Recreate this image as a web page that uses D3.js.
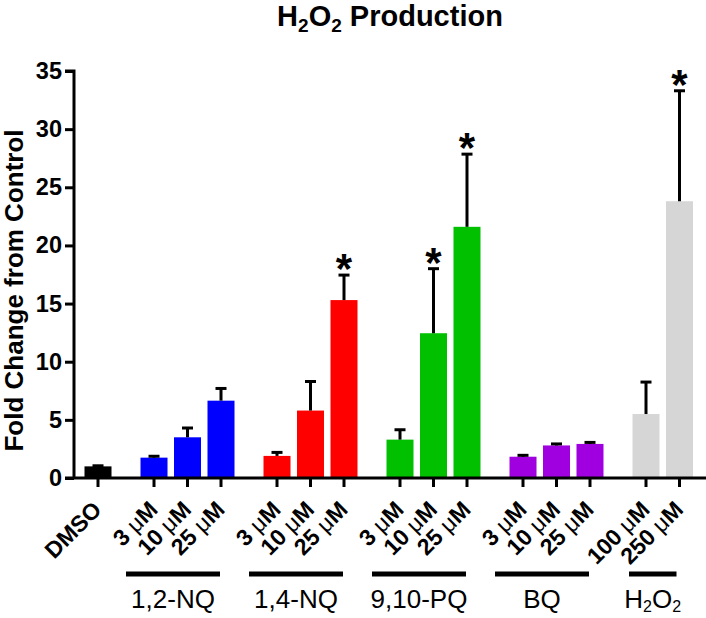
<!DOCTYPE html>
<html>
<head>
<meta charset="utf-8">
<script src="https://cdn.jsdelivr.net/npm/d3@7"></script>
<style>
  html, body { margin: 0; padding: 0; background: #fff; }
  svg { display: block; font-family: "Liberation Sans", Arial, sans-serif; }
</style>
</head>
<body>
<svg id="chart" width="706" height="618"></svg>
<script>
// ---------------- data ----------------
const doseNumbers = ["DMSO", "3", "10", "25", "3", "10", "25", "3", "10", "25", "3", "10", "25", "100", "250"];
const doseUnits   = ["",     "μM", "μM", "μM", "μM", "μM", "μM", "μM", "μM", "μM", "μM", "μM", "μM", "μM", "μM"];
const groupOf     = [0, 1, 1, 1, 2, 2, 2, 3, 3, 3, 4, 4, 4, 5, 5];
const means       = [1.0, 1.75, 3.5, 6.65, 1.9, 5.8, 15.3, 3.3, 12.45, 21.6, 1.83, 2.8, 2.93, 5.5, 23.8];
const errors      = [0.05, 0.12, 0.8, 1.05, 0.3, 2.5, 2.15, 0.85, 5.55, 6.25, 0.12, 0.13, 0.13, 2.75, 9.5];
const significant = [false, false, false, false, false, false, true, false, true, true, false, false, false, false, true];
const groupNames  = ["", "1,2-NQ", "1,4-NQ", "9,10-PQ", "BQ", "H2O2"];
const groupColors = ["#000000", "#0000ff", "#ff0000", "#00c000", "#a000e0", "#d6d6d6"];
const yTicks      = [0, 5, 10, 15, 20, 25, 30, 35];

// ---------------- layout ----------------
const svg = d3.select("#chart");
const groupGap = 0.672;                       // extra spacing between groups, in bar steps
const slots = means.map((d, i) => i + groupOf[i] * groupGap);
const x = d3.scaleLinear().domain([0, d3.max(slots)]).range([98, 679.5]);
const barW = 27;
const y = d3.scaleLinear().domain([0, 35]).range([478, 71]);
const axisX = 74;

// bars
svg.append("g").selectAll("rect").data(means).join("rect")
  .attr("x", (d, i) => x(slots[i]) - barW / 2)
  .attr("width", barW)
  .attr("y", d => y(d))
  .attr("height", d => y(0) - y(d))
  .attr("fill", (d, i) => groupColors[groupOf[i]]);

// error bars (upper only)
const eb = svg.append("g").attr("stroke", "#000").attr("stroke-width", 3);
means.forEach((m, i) => {
  const cx = x(slots[i]);
  eb.append("line").attr("x1", cx).attr("x2", cx).attr("y1", y(m)).attr("y2", y(m + errors[i]));
  eb.append("line").attr("x1", cx - 5.5).attr("x2", cx + 5.5).attr("y1", y(m + errors[i])).attr("y2", y(m + errors[i]));
});

// significance stars
svg.append("g").selectAll("text").data(means.map((m, i) => i).filter(i => significant[i])).join("text")
  .attr("x", i => x(slots[i]))
  .attr("y", i => y(means[i] + errors[i]) + 8)
  .attr("text-anchor", "middle")
  .attr("font-size", 42).attr("font-weight", "bold")
  .text("*");

// y axis
const yAxis = d3.axisLeft(y).tickValues(yTicks).tickSize(9).tickPadding(3).tickFormat(d3.format("d"));
const gy = svg.append("g").attr("transform", `translate(${axisX},0)`).call(yAxis);
gy.select(".domain").attr("stroke-width", 3).attr("d", `M-9,${y(35)}H0V${y(0)}`);
gy.selectAll(".tick line").attr("stroke-width", 3);
gy.selectAll(".tick text").attr("font-size", 23.5).attr("font-weight", "bold")
  .attr("font-family", "Liberation Sans, Arial, sans-serif").attr("fill", "#000");

// x axis
svg.append("line").attr("x1", axisX - 9).attr("x2", 706).attr("y1", y(0)).attr("y2", y(0))
  .attr("stroke", "#000").attr("stroke-width", 3);
svg.append("g").selectAll("line").data(slots).join("line")
  .attr("x1", d => x(d)).attr("x2", d => x(d))
  .attr("y1", y(0)).attr("y2", y(0) + 9)
  .attr("stroke", "#000").attr("stroke-width", 3);

// x tick labels (rotated)
const xl = svg.append("g").selectAll("text").data(doseNumbers).join("text")
  .attr("transform", (d, i) => `translate(${x(slots[i]) + 5},${y(0) + 33}) rotate(-45)`)
  .attr("text-anchor", "end")
  .attr("font-size", 23).attr("font-weight", "bold");
xl.append("tspan").text((d, i) => doseUnits[i] ? d + " " : d);
xl.append("tspan").attr("font-weight", "normal").text((d, i) => doseUnits[i] ? doseUnits[i].charAt(0) : "");
xl.append("tspan").text((d, i) => doseUnits[i] ? doseUnits[i].slice(1) : "");

// group underlines and names
const groups = d3.range(1, groupNames.length);
groups.forEach(g => {
  const idx = d3.range(means.length).filter(i => groupOf[i] === g);
  const first = x(slots[idx[0]]), last = x(slots[idx[idx.length - 1]]);
  const x1 = first - (idx.length > 2 ? 28 : 17);
  const x2 = last - (idx.length > 2 ? 1 : 3);
  svg.append("line").attr("x1", x1).attr("x2", x2).attr("y1", 574).attr("y2", 574)
    .attr("stroke", "#000").attr("stroke-width", 5);
  const t = svg.append("text").attr("x", (x1 + x2) / 2).attr("y", 608)
    .attr("text-anchor", "middle").attr("font-size", 26);
  const name = groupNames[g];
  if (name === "H2O2") {
    t.append("tspan").text("H");
    t.append("tspan").attr("font-size", 16).attr("dy", 4).text("2");
    t.append("tspan").attr("dy", -4).text("O");
    t.append("tspan").attr("font-size", 16).attr("dy", 4).text("2");
  } else {
    t.text(name);
  }
});

// y axis title
svg.append("text")
  .attr("transform", `translate(23,${(y(0) + y(35)) / 2 + 16}) rotate(-90)`)
  .attr("text-anchor", "middle")
  .attr("font-size", 26).attr("font-weight", "bold")
  .text("Fold Change from Control");

// chart title
const title = svg.append("text").attr("x", 390).attr("y", 26)
  .attr("text-anchor", "middle").attr("font-size", 29).attr("font-weight", "bold");
title.append("tspan").text("H");
title.append("tspan").attr("font-size", 19).attr("dy", 6).text("2");
title.append("tspan").attr("dy", -6).text("O");
title.append("tspan").attr("font-size", 19).attr("dy", 6).text("2");
title.append("tspan").attr("dy", -6).text(" Production");
</script>
</body>
</html>
